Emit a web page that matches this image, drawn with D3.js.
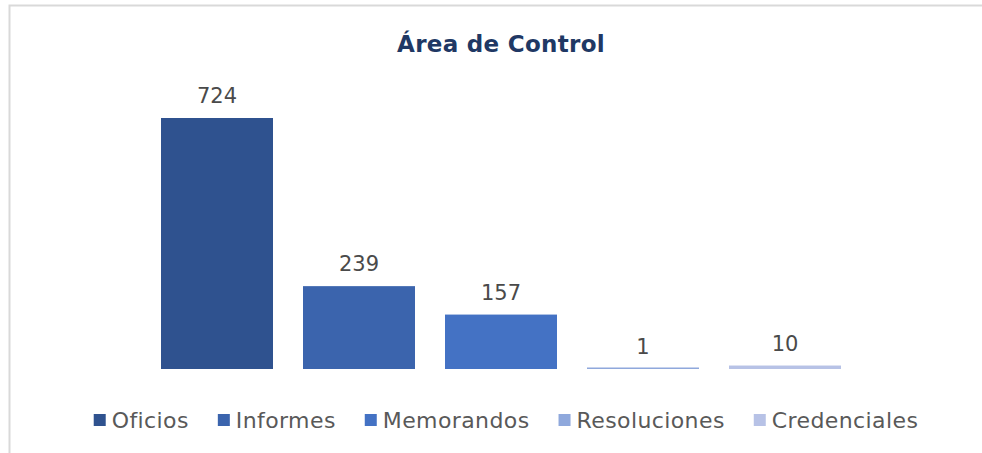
<!DOCTYPE html>
<html>
<head>
<meta charset="utf-8">
<script src="https://cdn.jsdelivr.net/npm/d3@7"></script>
<style>
  body { margin: 0; background: #fff; }
  svg { display: block; }
  text { font-family: "DejaVu Sans", sans-serif; }
</style>
</head>
<body>
<div id="chart"></div>
<script>
// data
var series = ["Oficios", "Informes", "Memorandos", "Resoluciones", "Credenciales"];
var values = [724, 239, 157, 1, 10];
var colors = ["#2f528f", "#3b64ad", "#4472c4", "#8fa8dc", "#b7c2e6"];
var title = "Área de Control";

var width = 982, height = 453;

var svg = d3.select("#chart").append("svg")
    .attr("width", width)
    .attr("height", height);

// outer frame, only top and left edges are in view
svg.append("rect")
    .attr("x", 9.5).attr("y", 5.5)
    .attr("width", 1100).attr("height", 600)
    .attr("fill", "none")
    .attr("stroke", "#d9d9d9")
    .attr("stroke-width", 2);

svg.append("text")
    .attr("x", 501).attr("y", 52)
    .attr("text-anchor", "middle")
    .attr("font-size", 23)
    .attr("font-weight", "bold")
    .attr("letter-spacing", 0.3)
    .attr("fill", "#203864")
    .text(title);

var x = d3.scaleBand()
    .domain(series)
    .range([146, 856])
    .paddingInner(30 / 142)
    .paddingOuter(15 / 142);

var y = d3.scaleLinear()
    .domain([0, 800])
    .range([369, 369 - 800 * 251 / 724]);

svg.append("g").selectAll("rect")
    .data(series)
    .join("rect")
    .attr("x", function(d) { return x(d); })
    .attr("width", x.bandwidth())
    .attr("y", function(d, i) { return Math.min(y(values[i]), y(0) - 1.5); })
    .attr("height", function(d, i) { return Math.max(y(0) - y(values[i]), 1.5); })
    .attr("fill", function(d, i) { return colors[i]; });

svg.append("g").selectAll("text")
    .data(series)
    .join("text")
    .attr("x", function(d) { return x(d) + x.bandwidth() / 2; })
    .attr("y", function(d, i) { return y(values[i]) - 15; })
    .attr("text-anchor", "middle")
    .attr("font-size", 21)
    .attr("fill", "#4a4a4a")
    .text(function(d, i) { return values[i]; });

// legend, laid out from measured text widths and centred
var legend = svg.append("g");
var items = legend.selectAll("g")
    .data(series)
    .join("g");
items.append("rect")
    .attr("width", 12).attr("height", 12)
    .attr("y", -6)
    .attr("fill", function(d, i) { return colors[i]; });
items.append("text")
    .attr("x", 18)
    .attr("dy", "0.35em")
    .attr("font-size", 22)
    .attr("letter-spacing", 0.4)
    .attr("fill", "#595959")
    .text(function(d) { return d; });

var pos = 0;
items.each(function() {
  var w = d3.select(this).select("text").node().getComputedTextLength();
  d3.select(this).attr("transform", "translate(" + pos + ",0)");
  pos += 18 + w + 29;
});
pos -= 29;
legend.attr("transform", "translate(" + (506 - pos / 2) + ",420)");
</script>
</body>
</html>
